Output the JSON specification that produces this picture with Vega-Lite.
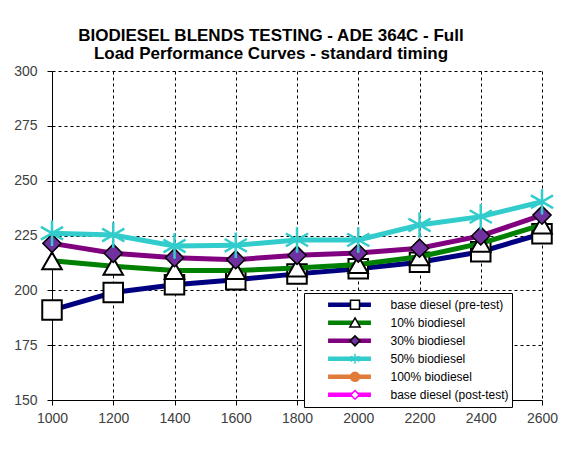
{
  "$schema": "https://vega.github.io/schema/vega-lite/v6.json",
  "width": 490,
  "height": 329,
  "autosize": "none",
  "padding": {"left": 52, "top": 71, "right": 30, "bottom": 64},
  "background": "white",
  "title": {
    "text": ["BIODIESEL BLENDS TESTING - ADE 364C - Full", "Load Performance Curves - standard timing"],
    "font": "Liberation Sans", "fontSize": 17, "fontWeight": "bold", "color": "black",
    "lineHeight": 18, "anchor": "middle", "dx": -26, "offset": 1
  },
  "data": {"values": [
    {"rpm": 1000, "series": "base diesel (pre-test)", "value": 191},
    {"rpm": 1200, "series": "base diesel (pre-test)", "value": 199},
    {"rpm": 1400, "series": "base diesel (pre-test)", "value": 202.5},
    {"rpm": 1600, "series": "base diesel (pre-test)", "value": 204.8},
    {"rpm": 1800, "series": "base diesel (pre-test)", "value": 207.5},
    {"rpm": 2000, "series": "base diesel (pre-test)", "value": 209.8},
    {"rpm": 2200, "series": "base diesel (pre-test)", "value": 212.8},
    {"rpm": 2400, "series": "base diesel (pre-test)", "value": 217.6},
    {"rpm": 2600, "series": "base diesel (pre-test)", "value": 225.8},
    {"rpm": 1000, "series": "10% biodiesel", "value": 213.5},
    {"rpm": 1200, "series": "10% biodiesel", "value": 211},
    {"rpm": 1400, "series": "10% biodiesel", "value": 209},
    {"rpm": 1600, "series": "10% biodiesel", "value": 209},
    {"rpm": 1800, "series": "10% biodiesel", "value": 210.2},
    {"rpm": 2000, "series": "10% biodiesel", "value": 211.8},
    {"rpm": 2200, "series": "10% biodiesel", "value": 215.3},
    {"rpm": 2400, "series": "10% biodiesel", "value": 221.4},
    {"rpm": 2600, "series": "10% biodiesel", "value": 229.8},
    {"rpm": 1000, "series": "30% biodiesel", "value": 221.4},
    {"rpm": 1200, "series": "30% biodiesel", "value": 216.9},
    {"rpm": 1400, "series": "30% biodiesel", "value": 214.9},
    {"rpm": 1600, "series": "30% biodiesel", "value": 214},
    {"rpm": 1800, "series": "30% biodiesel", "value": 216},
    {"rpm": 2000, "series": "30% biodiesel", "value": 217},
    {"rpm": 2200, "series": "30% biodiesel", "value": 219.2},
    {"rpm": 2400, "series": "30% biodiesel", "value": 224.8},
    {"rpm": 2600, "series": "30% biodiesel", "value": 234.3},
    {"rpm": 1000, "series": "50% biodiesel", "value": 226},
    {"rpm": 1200, "series": "50% biodiesel", "value": 225.2},
    {"rpm": 1400, "series": "50% biodiesel", "value": 220.2},
    {"rpm": 1600, "series": "50% biodiesel", "value": 220.5},
    {"rpm": 1800, "series": "50% biodiesel", "value": 223},
    {"rpm": 2000, "series": "50% biodiesel", "value": 223},
    {"rpm": 2200, "series": "50% biodiesel", "value": 229.8},
    {"rpm": 2400, "series": "50% biodiesel", "value": 233.6},
    {"rpm": 2600, "series": "50% biodiesel", "value": 240.4}
  ]},
  "config": {
    "view": {"stroke": null},
    "axis": {
      "domainColor": "black", "tickColor": "black", "gridColor": "black",
      "gridDash": [3, 3], "gridWidth": 1, "gridOpacity": 1,
      "labelFont": "Liberation Sans", "labelFontSize": 14, "labelColor": "#404040",
      "tickSize": 5, "title": null
    }
  },
  "encoding": {
    "x": {"field": "rpm", "type": "quantitative",
      "scale": {"domain": [1000, 2600], "nice": false},
      "axis": {"values": [1000, 1200, 1400, 1600, 1800, 2000, 2200, 2400, 2600], "format": "d", "labelPadding": 6, "grid": true, "labelFlush": false}},
    "y": {"field": "value", "type": "quantitative",
      "scale": {"domain": [150, 300], "nice": false, "zero": false},
      "axis": {"values": [150, 175, 200, 225, 250, 275, 300], "labelPadding": 10, "grid": true, "labelFlush": false}}
  },
  "layer": [
    {
      "transform": [{"filter": {"field": "series", "equal": "base diesel (pre-test)"}}],
      "mark": {"type": "line", "strokeWidth": 5},
      "encoding": {
        "color": {"field": "series", "type": "nominal",
          "scale": {"domain": ["base diesel (pre-test)", "10% biodiesel", "30% biodiesel", "50% biodiesel", "100% biodiesel", "base diesel (post-test)"],
                    "range": ["#000080", "#008000", "#800080", "#33cccc", "#e07b39", "#ff00ff"]},
          "legend": {"title": null, "orient": "none", "legendX": 252, "legendY": 222,
            "symbolType": "stroke", "symbolSize": 1837, "symbolStrokeWidth": 4.5,
            "clipHeight": 17.7, "rowPadding": 0, "padding": 3, "symbolOffset": 18.5, "labelOffset": 17,
            "labelFont": "Liberation Sans", "labelFontSize": 12, "labelColor": "black",
            "fillColor": "white", "strokeColor": "black"}}
      }
    },
    {
      "transform": [{"filter": {"field": "series", "equal": "base diesel (pre-test)"}}],
      "mark": {"type": "point", "shape": "square", "size": 380, "filled": true, "fill": "white", "stroke": "black", "strokeWidth": 2, "opacity": 1}
    },
    {
      "transform": [{"filter": {"field": "series", "equal": "10% biodiesel"}}],
      "mark": {"type": "line", "strokeWidth": 5},
      "encoding": {"color": {"field": "series", "type": "nominal"}}
    },
    {
      "transform": [{"filter": {"field": "series", "equal": "10% biodiesel"}}],
      "mark": {"type": "point", "shape": "triangle-up", "size": 380, "filled": true, "fill": "white", "stroke": "black", "strokeWidth": 2, "opacity": 1}
    },
    {
      "transform": [{"filter": {"field": "series", "equal": "30% biodiesel"}}],
      "mark": {"type": "line", "strokeWidth": 5},
      "encoding": {"color": {"field": "series", "type": "nominal"}}
    },
    {
      "transform": [{"filter": {"field": "series", "equal": "30% biodiesel"}}],
      "mark": {"type": "point", "shape": "diamond", "size": 330, "filled": true, "fill": "#7030a0", "stroke": "black", "strokeWidth": 1.5, "opacity": 1}
    },
    {
      "transform": [{"filter": {"field": "series", "equal": "50% biodiesel"}}],
      "mark": {"type": "line", "strokeWidth": 5},
      "encoding": {"color": {"field": "series", "type": "nominal"}}
    },
    {
      "transform": [{"filter": {"field": "series", "equal": "50% biodiesel"}}],
      "mark": {"type": "point", "shape": "M0,-1V1M-0.87,-0.5L0.87,0.5M-0.87,0.5L0.87,-0.5", "size": 650, "filled": false, "stroke": "#33cccc", "strokeWidth": 2.5, "opacity": 1}
    },
    {
      "data": {"values": [{"key": "a"}]},
      "transform": [{"filter": "false"}],
      "mark": {"type": "point", "opacity": 1},
      "encoding": {
        "x": null, "y": null,
        "shape": {"field": "key", "type": "nominal",
          "scale": {"domain": ["a", "b", "c", "d", "e", "f"],
                    "range": [
                      "M-0.167,-0.167H0.167V0.167H-0.167Z",
                      "M0,-0.18L0.19,0.15H-0.19Z",
                      "M0,-0.185L0.185,0L0,0.185L-0.185,0Z",
                      "M0,-0.185V0.185M-0.16,-0.093L0.16,0.093M-0.16,0.093L0.16,-0.093",
                      "M-0.167,0A0.167,0.167,0,1,0,0.167,0A0.167,0.167,0,1,0,-0.167,0Z",
                      "M0,-0.16L0.16,0L0,0.16L-0.16,0Z"]},
          "legend": {"title": null, "orient": "none", "legendX": 252, "legendY": 222,
            "symbolSize": 2916, "symbolStrokeWidth": 1.5,
            "clipHeight": 17.7, "rowPadding": 0, "padding": 3, "symbolOffset": 20,
            "labelFont": "Liberation Sans", "labelFontSize": 12, "labelOpacity": 0, "labelExpr": "''"}},
        "fill": {"field": "key", "type": "nominal",
          "scale": {"domain": ["a", "b", "c", "d", "e", "f"],
                    "range": ["white", "white", "#7030a0", "transparent", "#e07b39", "white"]}},
        "stroke": {"field": "key", "type": "nominal",
          "scale": {"domain": ["a", "b", "c", "d", "e", "f"],
                    "range": ["black", "black", "black", "#33cccc", "#e07b39", "#ff00ff"]}}
      }
    }
  ]
}
